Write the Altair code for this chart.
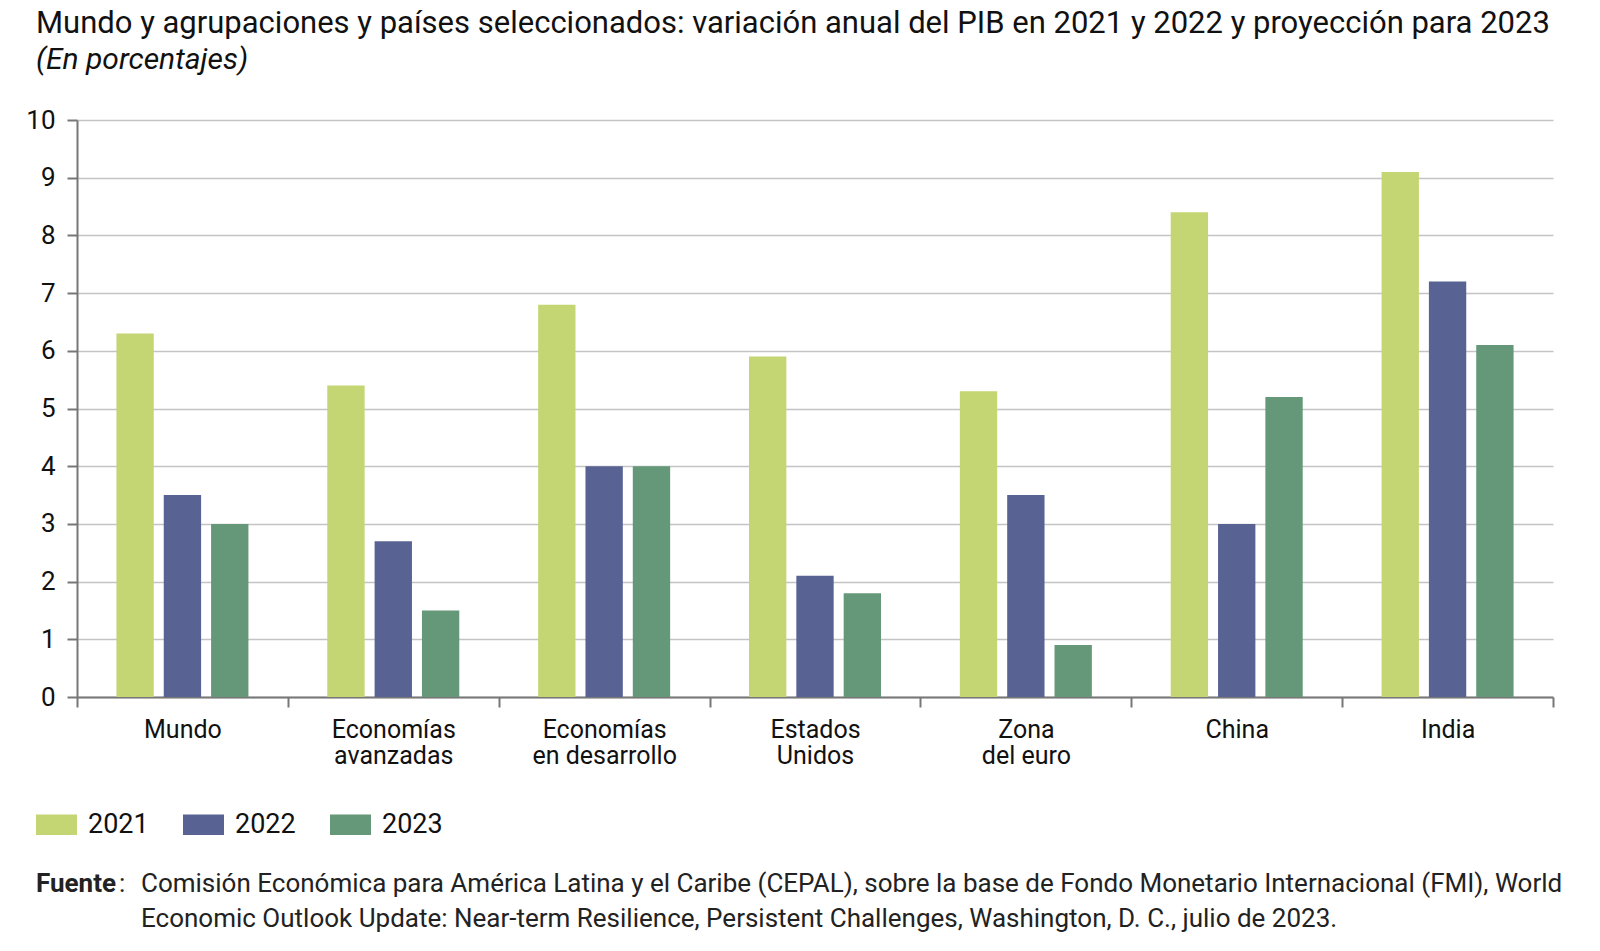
import altair as alt
import pandas as pd

categories = ["Mundo", "Economías avanzadas", "Economías en desarrollo",
              "Estados Unidos", "Zona del euro", "China", "India"]
label_lines = {
    "Mundo": ["Mundo"],
    "Economías avanzadas": ["Economías", "avanzadas"],
    "Economías en desarrollo": ["Economías", "en desarrollo"],
    "Estados Unidos": ["Estados", "Unidos"],
    "Zona del euro": ["Zona", "del euro"],
    "China": ["China"],
    "India": ["India"],
}
years = ["2021", "2022", "2023"]
v2021 = [6.3, 5.4, 6.8, 5.9, 5.3, 8.4, 9.1]
v2022 = [3.5, 2.7, 4.0, 2.1, 3.5, 3.0, 7.2]
v2023 = [3.0, 1.5, 4.0, 1.8, 0.9, 5.2, 6.1]
colors = ["#c3d673", "#586394", "#659879"]
y_ticks = list(range(0, 11))

title_text = ("Mundo y agrupaciones y países seleccionados: variación anual del PIB "
              "en 2021 y 2022 y proyección para 2023")
subtitle_text = "(En porcentajes)"
source_label = "Fuente"
source_lines = [
    "Comisión Económica para América Latina y el Caribe (CEPAL), sobre la base de Fondo Monetario Internacional (FMI), World",
    "Economic Outlook Update: Near-term Resilience, Persistent Challenges, Washington, D. C., julio de 2023.",
]

FONT = "Roboto"
W, H = 1476, 577

rows = []
for i, c in enumerate(categories):
    for y, vals in zip(years, [v2021, v2022, v2023]):
        rows.append({"cat": c, "year": y, "value": vals[i]})
df = pd.DataFrame(rows)

expr = ""
for c, lines in label_lines.items():
    arr = "[" + ",".join("'" + l + "'" for l in lines) + "]"
    expr += f"datum.label == '{c}' ? {arr} : "
expr += "datum.label"

bars = alt.Chart(df).mark_bar().encode(
    x=alt.X("cat:N", sort=categories, title=None,
            scale=alt.Scale(paddingInner=0, paddingOuter=0),
            axis=alt.Axis(labelAngle=0, tickBand="extent", labelExpr=expr,
                          labelFont=FONT, labelFontSize=25, labelColor="#111111",
                          labelLineHeight=26, labelPadding=10,
                          tickSize=10, tickColor="#777777", tickWidth=2,
                          domainColor="#777777", domainWidth=2, grid=False)),
    xOffset=alt.XOffset("year:N", sort=years,
                        scale=alt.Scale(paddingInner=0.211, paddingOuter=0.833)),
    y=alt.Y("value:Q", title=None,
            scale=alt.Scale(domain=[0, 10], nice=False),
            axis=alt.Axis(values=y_ticks, labelFont=FONT, labelFontSize=26,
                          labelColor="#111111", labelPadding=12,
                          tickSize=10, tickColor="#777777", tickWidth=2,
                          domainColor="#777777", domainWidth=2,
                          grid=True, gridColor="#c4c4c4", gridWidth=1.5)),
    color=alt.Color("year:N", sort=years,
                    scale=alt.Scale(domain=years, range=colors),
                    legend=alt.Legend(title=None, orient="none", direction="horizontal",
                                      legendX=-41, legendY=684,
                                      symbolType="M-1,-0.5H1V0.5H-1Z",
                                      symbolSize=1681, symbolStrokeWidth=0,
                                      labelFont=FONT, labelFontSize=27,
                                      labelColor="#111111", labelOffset=11,
                                      columnPadding=34, padding=0)),
)

title_mark = alt.Chart(pd.DataFrame({"t": [title_text]})).mark_text(
    font=FONT, fontSize=31, align="left", baseline="alphabetic", color="#111111"
).encode(text="t:N", x=alt.value(-41), y=alt.value(-87))

sub_mark = alt.Chart(pd.DataFrame({"t": [subtitle_text]})).mark_text(
    font=FONT, fontSize=30, fontStyle="italic", align="left", baseline="alphabetic",
    color="#111111"
).encode(text="t:N", x=alt.value(-41), y=alt.value(-51))

src_lbl = alt.Chart(pd.DataFrame({"t": [source_label]})).mark_text(
    font=FONT, fontSize=26, fontWeight="bold", align="left", baseline="alphabetic",
    color="#222222"
).encode(text="t:N", x=alt.value(-41), y=alt.value(772))

colon = alt.Chart(pd.DataFrame({"t": [":"]})).mark_text(
    font=FONT, fontSize=26, align="left", baseline="alphabetic", color="#222222"
).encode(text="t:N", x=alt.value(42), y=alt.value(772))

src1 = alt.Chart(pd.DataFrame({"t": [source_lines[0]]})).mark_text(
    font=FONT, fontSize=26, align="left", baseline="alphabetic", color="#222222"
).encode(text="t:N", x=alt.value(64), y=alt.value(772))
src2 = alt.Chart(pd.DataFrame({"t": [source_lines[1]]})).mark_text(
    font=FONT, fontSize=26, align="left", baseline="alphabetic", color="#222222"
).encode(text="t:N", x=alt.value(64), y=alt.value(807))

chart = alt.layer(bars, title_mark, sub_mark, src_lbl, colon, src1, src2).properties(
    width=W, height=H,
    autosize=alt.AutoSizeParams(type="none"),
    padding={"left": 69, "top": 112, "right": 39, "bottom": 240},
).configure_view(stroke=None)

chart.save("out.html", embed_options={"renderer": "svg", "actions": False})
